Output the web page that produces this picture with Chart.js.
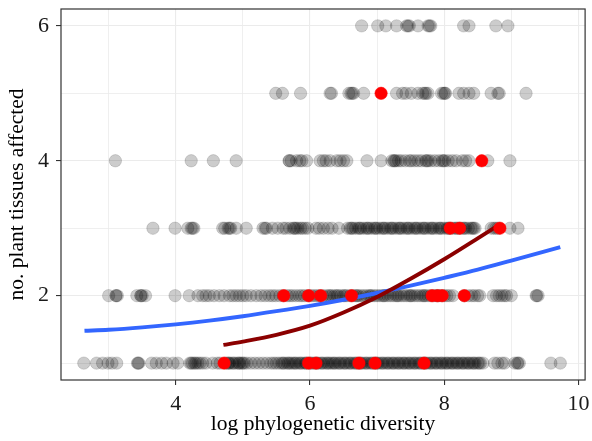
<!DOCTYPE html>
<html><head><meta charset="utf-8">
<script src="https://cdn.jsdelivr.net/npm/chart.js@4/dist/chart.umd.min.js"></script>
<style>html,body{margin:0;padding:0;background:#fff;}#wrap{width:592px;height:441px;}</style>
</head><body><div id="wrap"><canvas id="c" width="592" height="441"></canvas></div>
<script>
// grey observations (x = log phylogenetic diversity) per number of tissues
const greyRow1 = [2.63,2.82,2.91,2.99,3.05,3.12,3.43,3.44,3.45,3.64,3.71,3.79,3.86,3.96,4.03,4.21,4.23,4.25,4.28,4.30,4.33,4.36,4.40,4.45,4.55,4.62,4.66,
 4.75,4.78,4.80,4.84,4.88,4.92,4.95,4.98,5.02,5.06,5.12,5.18,5.24,5.30,5.36,5.42,5.46,5.50,5.54,5.58,5.62,5.66,5.70,5.73,5.76,5.80,5.84,5.88,5.92,5.95,
 6.00,6.04,6.08,6.12,6.16,6.20,6.24,6.28,6.31,6.34,6.38,6.42,6.46,6.50,6.54,6.58,6.62,6.66,6.70,6.74,6.78,6.82,6.86,6.90,6.94,6.98,
 7.02,7.06,7.10,7.14,7.18,7.22,7.26,7.30,7.34,7.38,7.42,7.46,7.50,7.54,7.58,7.62,7.66,7.70,7.74,7.78,7.82,7.86,7.90,7.94,7.98,
 8.02,8.06,8.10,8.14,8.18,8.22,8.26,8.30,8.34,8.38,8.42,8.46,8.50,8.54,8.58,
 4.79,4.86,4.94,5.00,5.60,5.68,5.78,5.86,5.94,6.02,6.10,6.18,6.26,6.36,6.44,6.52,6.60,6.68,6.76,6.84,6.92,7.00,7.08,7.16,7.24,7.32,7.40,7.48,7.56,7.64,7.72,7.80,7.88,7.96,8.04,8.12,8.20,8.28,8.36,8.44,8.52,
 8.75,8.80,8.86,8.90,9.05,9.09,9.10,9.12,9.59,9.73];
const greyRow2 = [3.00,3.11,3.11,3.13,3.42,3.48,3.48,3.50,3.55,3.99,4.20,4.33,4.40,4.45,4.50,4.57,4.65,4.72,4.80,4.85,4.90,4.95,5.00,5.05,5.12,5.20,5.27,5.33,5.39,5.44,5.49,
 5.55,5.60,5.66,5.70,5.74,5.79,5.84,5.88,5.92,5.97,6.02,6.06,6.10,6.14,6.19,6.24,6.28,6.33,6.37,6.42,6.46,6.50,6.55,6.60,6.64,6.68,6.72,6.76,6.80,6.84,6.88,6.92,6.96,
 7.00,7.04,7.08,7.12,7.16,7.20,7.24,7.28,7.32,7.36,7.40,7.44,7.48,7.52,7.56,7.60,7.64,7.68,7.72,7.76,7.80,7.84,7.88,7.92,7.96,8.00,8.04,8.08,8.13,
 6.30,6.40,6.52,6.70,6.90,7.10,7.30,7.50,7.70,7.90,
 8.30,8.36,8.41,8.45,8.50,8.53,8.73,8.78,8.82,8.86,8.90,8.93,9.00,9.37,9.38,9.40];
const greyRow3 = [3.66,3.99,4.18,4.23,4.25,4.27,4.70,4.73,4.78,4.80,4.82,4.90,5.05,5.30,5.33,5.35,5.44,5.52,5.60,5.64,5.70,5.75,5.77,5.79,5.82,5.86,5.89,5.93,5.97,
 6.09,6.14,6.20,6.27,6.33,6.43,6.56,6.60,6.64,6.68,6.72,6.76,6.80,6.84,6.88,6.92,6.96,7.00,7.04,7.08,7.12,7.16,7.20,7.24,7.28,7.32,7.36,7.40,7.44,7.48,
 7.52,7.56,7.60,7.64,7.68,7.72,7.76,7.80,7.84,7.88,7.92,7.96,8.00,8.04,8.08,8.12,8.16,8.20,8.24,8.28,8.32,8.36,8.40,8.44,8.46,
 6.62,6.74,6.86,6.98,7.10,7.22,7.34,7.46,7.58,7.70,7.82,7.94,8.06,8.18,8.30,8.42,
 8.70,8.74,8.77,8.80,8.98,9.10];
const greyRow4 = [3.10,4.23,4.56,4.90,5.69,5.69,5.72,5.80,5.85,5.88,5.95,6.15,6.20,6.24,6.30,6.40,6.45,6.50,6.55,6.85,7.06,
 7.22,7.25,7.26,7.28,7.32,7.36,7.42,7.48,7.51,7.56,7.61,7.66,7.72,7.74,7.76,7.80,7.86,7.92,7.97,7.99,8.01,8.06,8.12,8.18,8.27,8.32,8.37,8.65,8.98];
const greyRow5 = [5.49,5.59,5.86,6.30,6.32,6.58,6.61,6.63,6.65,6.80,7.29,7.38,7.43,7.51,7.61,7.68,7.71,7.73,7.76,7.96,7.99,8.01,8.02,8.22,8.29,8.37,8.44,8.70,8.80,8.82,9.22];
const greyRow6 = [6.77,7.01,7.13,7.29,7.44,7.46,7.48,7.61,7.76,7.78,7.80,8.29,8.37,8.77,8.95];
const greyRowsY = [1,2,3,4,5,6];

// highlighted (red) observations
const redRow1 = [4.72,5.98,6.09,6.73,6.97,7.70];
const redRow2 = [5.61,5.98,6.16,6.62,7.82,7.90,7.97,8.30];
const redRow3 = [8.09,8.23,8.83];
const redRow4 = [8.56];
const redRow5 = [7.06];

// fitted curves
const blueX = [2.64,3.0,3.5,4.0,4.5,5.0,5.5,6.0,6.5,7.0,7.5,8.0,8.5,9.0,9.73];
const blueY = [1.48,1.495,1.53,1.575,1.63,1.695,1.77,1.85,1.94,2.04,2.15,2.265,2.385,2.52,2.72];
const darkRedX = [4.71,5.0,5.5,6.0,6.5,7.0,7.5,8.0,8.5,8.8];
const darkRedY = [1.27,1.32,1.42,1.555,1.75,1.98,2.25,2.54,2.85,3.04];

// axes
const xGridValues = [3,4,5,6,7,8,9,10];
const xTickLabels = [4,6,8,10];
const yGridValues = [1,2,3,4,5,6];
const yTickLabels = [2,4,6];
const xTitle = 'log phylogenetic diversity';
const yTitle = 'no. plant tissues affected';

const greyRows = [greyRow1,greyRow2,greyRow3,greyRow4,greyRow5,greyRow6];
const redRows = [redRow1,redRow2,redRow3,redRow4,redRow5];
const greyData = [];
greyRows.forEach((row,i)=>row.forEach(x=>greyData.push({x:x,y:greyRowsY[i]})));
const redData = [];
redRows.forEach((row,i)=>row.forEach(x=>redData.push({x:x,y:greyRowsY[i]})));
const blueData = blueX.map((x,i)=>({x:x,y:blueY[i]}));
const darkRedData = darkRedX.map((x,i)=>({x:x,y:darkRedY[i]}));

const FONT = "'Liberation Serif', 'Times New Roman', serif";

const panelBorder = {
  id:'panelBorder',
  afterDraw(chart){
    const {ctx, chartArea:a} = chart;
    ctx.save();
    ctx.strokeStyle = '#333333';
    ctx.lineWidth = 1.2;
    ctx.strokeRect(a.left, a.top, a.right-a.left, a.bottom-a.top);
    ctx.restore();
  }
};

new Chart(document.getElementById('c'), {
  type:'scatter',
  data:{datasets:[
    {label:'obs', data:greyData, order:4, backgroundColor:'rgba(0,0,0,0.2)', borderColor:'rgba(0,0,0,0.2)', borderWidth:0.7, pointRadius:6.2, pointHoverRadius:6.2},
    {label:'fit1', data:blueData, order:3, showLine:true, borderColor:'#3366FF', borderWidth:3.9, pointRadius:0, cubicInterpolationMode:'monotone', fill:false},
    {label:'fit2', data:darkRedData, order:2, showLine:true, borderColor:'#8B0000', borderWidth:3.9, pointRadius:0, cubicInterpolationMode:'monotone', fill:false},
    {label:'red', data:redData, order:1, backgroundColor:'#FF0000', borderColor:'#FF0000', borderWidth:0.5, pointRadius:6.2, pointHoverRadius:6.2}
  ]},
  options:{
    responsive:false, animation:false, devicePixelRatio:1,
    layout:{padding:{left:0,right:5,top:9,bottom:0}},
    plugins:{legend:{display:false}, tooltip:{enabled:false}},
    scales:{
      x:{
        type:'linear', min:2.29, max:10.1,
        afterBuildTicks:s=>{ s.ticks = xGridValues.map(v=>({value:v})); },
        afterFit:s=>{ s.height = 61; s.paddingLeft = 0; s.paddingRight = 0; },
        ticks:{autoSkip:false, maxRotation:0, padding:6, color:'#1a1a1a',
          font:{family:FONT, size:22},
          callback:v=> xTickLabels.includes(v) ? String(v) : ''},
        grid:{color:'#EBEBEB',
          lineWidth:c=> (c.tick && xTickLabels.includes(c.tick.value)) ? 1.1 : 0.8,
          tickColor:c=> (c.tick && xTickLabels.includes(c.tick.value)) ? '#333333' : 'rgba(0,0,0,0)',
          tickLength:5, tickWidth:1.1},
        border:{display:false},
        title:{display:true, text:xTitle, color:'#000', font:{family:FONT, size:21.5}, padding:{top:0,bottom:4}}
      },
      y:{
        type:'linear', min:0.75, max:6.25,
        afterBuildTicks:s=>{ s.ticks = yGridValues.map(v=>({value:v})); },
        afterFit:s=>{ s.width = 61; s.paddingTop = 0; s.paddingBottom = 0; },
        ticks:{autoSkip:false, padding:7, color:'#1a1a1a',
          font:{family:FONT, size:22},
          callback:v=> yTickLabels.includes(v) ? String(v) : ''},
        grid:{color:'#EBEBEB',
          lineWidth:c=> (c.tick && yTickLabels.includes(c.tick.value)) ? 1.1 : 0.8,
          tickColor:c=> (c.tick && yTickLabels.includes(c.tick.value)) ? '#333333' : 'rgba(0,0,0,0)',
          tickLength:5, tickWidth:1.1},
        border:{display:false},
        title:{display:true, text:yTitle, color:'#000', font:{family:FONT, size:21.5}, padding:{top:4,bottom:0}}
      }
    }
  },
  plugins:[panelBorder]
});
</script></body></html>
